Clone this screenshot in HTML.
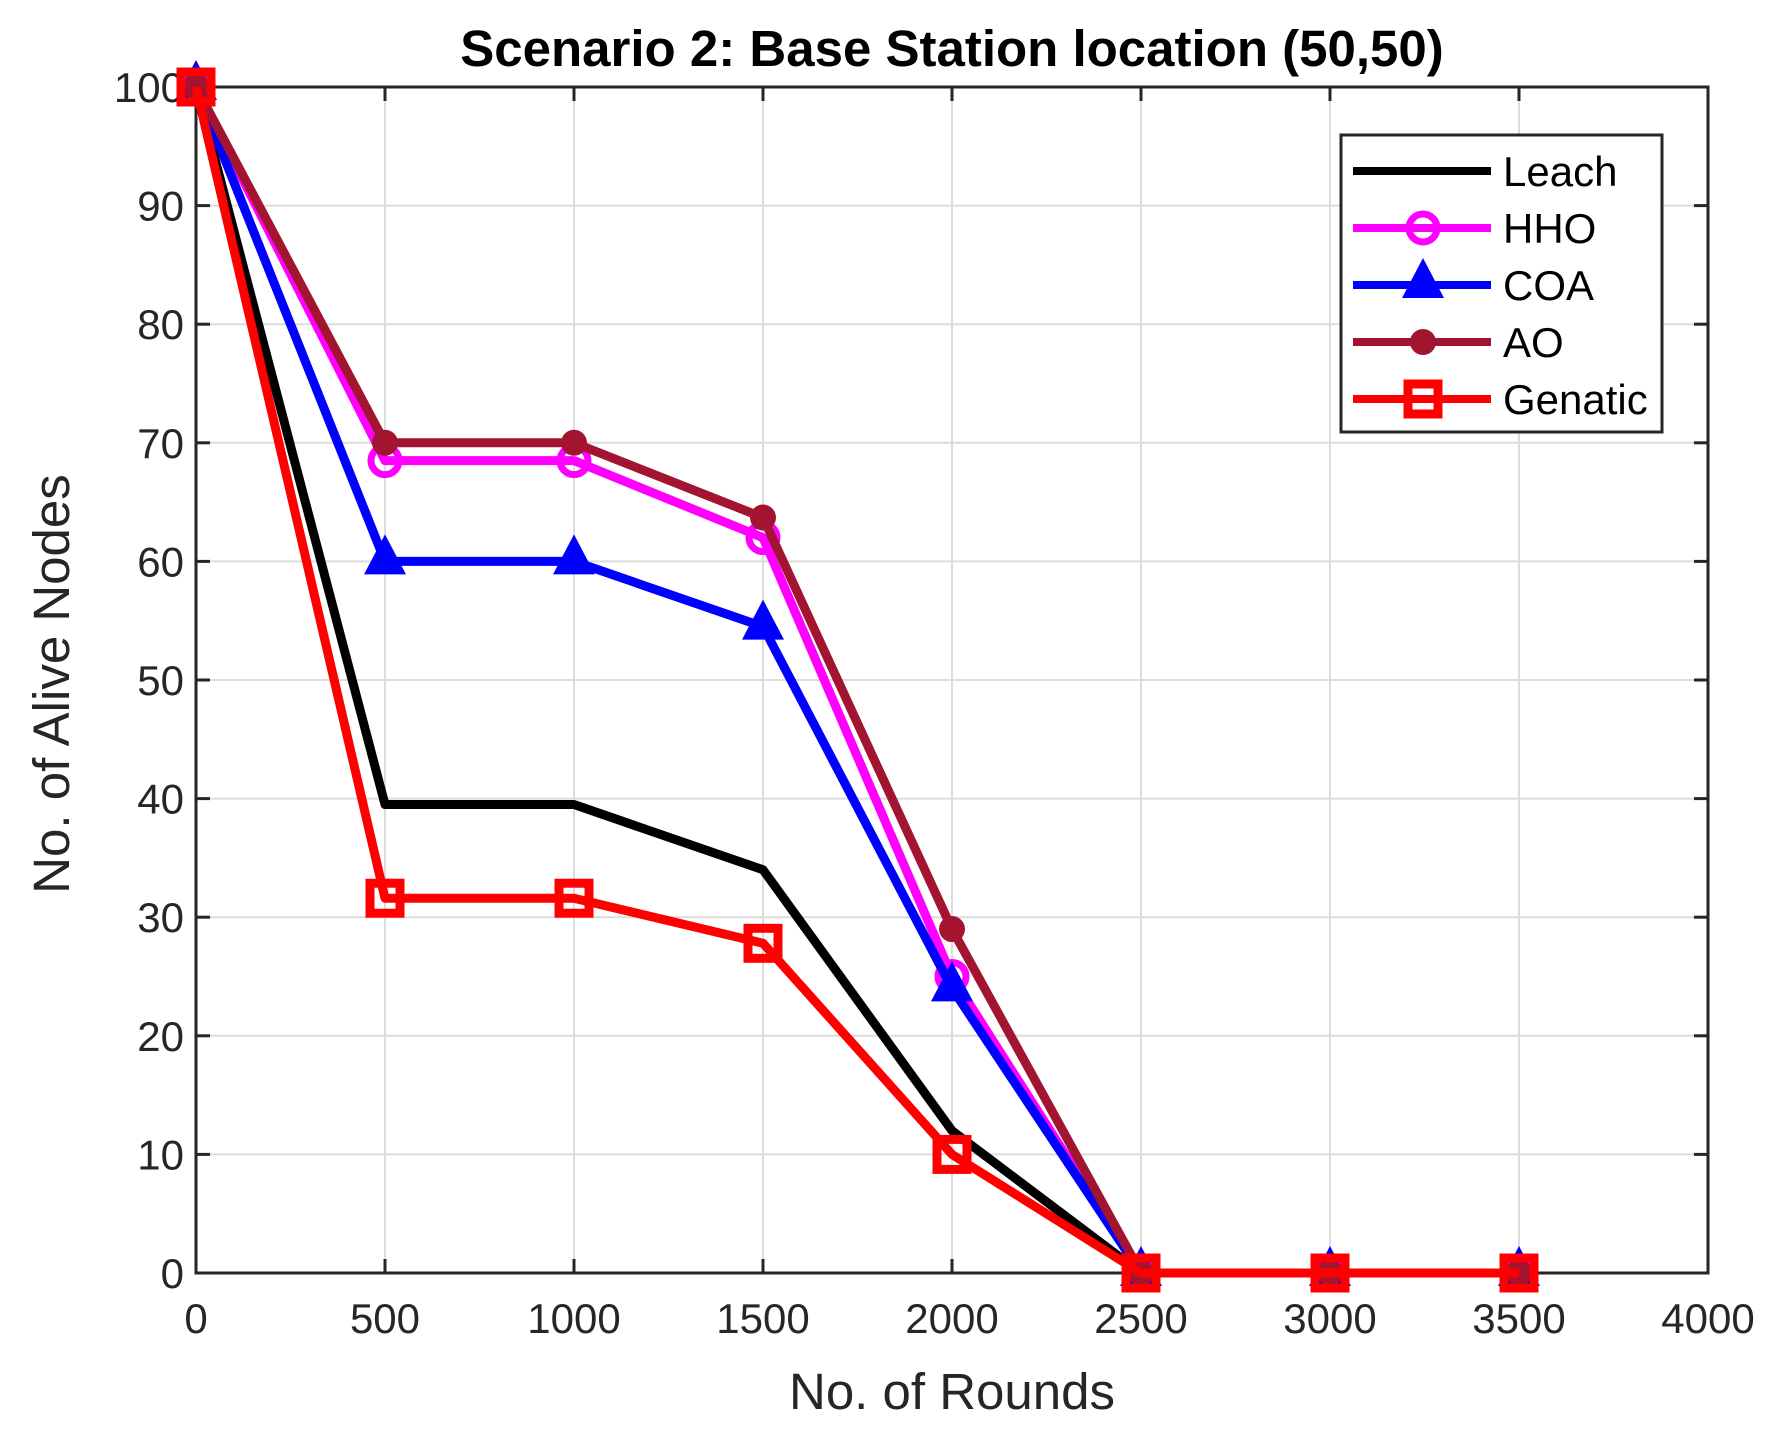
<!DOCTYPE html>
<html><head><meta charset="utf-8"><style>body{margin:0;background:#fff}svg{display:block;font-family:"Liberation Sans",Arial,sans-serif}</style></head>
<body>
<svg id="c" width="1785" height="1433"></svg>
<script>
const categories=[0,500,1000,1500,2000,2500,3000,3500];
const leach=[100,39.5,39.5,34,12,0,0,0];
const hho=[100,68.5,68.5,62,25,0,0,0];
const coa=[100,60,60,54.5,24,0,0,0];
const ao=[100,70,70,63.7,29,0,0,0];
const genatic=[100,31.6,31.6,27.8,10,0,0,0];
const xTicks=[0,500,1000,1500,2000,2500,3000,3500,4000];
const yTicks=[0,10,20,30,40,50,60,70,80,90,100];
const L=196,R=1708,T=87,B=1273;
const X=v=>L+(R-L)*v/4000, Y=v=>B-(B-T)*v/100;
const NS="http://www.w3.org/2000/svg",svg=document.getElementById('c');
function mk(t,a,p){const e=document.createElementNS(NS,t);for(const k in a)e.setAttribute(k,a[k]);(p||svg).appendChild(e);return e;}
const grid=mk('g',{});


xTicks.forEach(v=>{mk('line',{x1:X(v),x2:X(v),y1:T,y2:B,stroke:'#dcdcdc','stroke-width':2},grid);});
yTicks.forEach(v=>{mk('line',{x1:L,x2:R,y1:Y(v),y2:Y(v),stroke:'#dcdcdc','stroke-width':2},grid);});
const ax=mk('g',{});


mk('rect',{x:L,y:T,width:R-L,height:B-T,fill:'none',stroke:'#262626','stroke-width':3},ax);
xTicks.forEach(v=>{mk('line',{x1:X(v),x2:X(v),y1:B,y2:B-14,stroke:'#262626','stroke-width':3},ax);mk('line',{x1:X(v),x2:X(v),y1:T,y2:T+14,stroke:'#262626','stroke-width':3},ax);
const t=mk('text',{x:X(v),y:B+60,'text-anchor':'middle','font-size':42,fill:'#262626'},ax);t.textContent=v;

});
yTicks.forEach(v=>{mk('line',{x1:L,x2:L+14,y1:Y(v),y2:Y(v),stroke:'#262626','stroke-width':3},ax);mk('line',{x1:R,x2:R-14,y1:Y(v),y2:Y(v),stroke:'#262626','stroke-width':3},ax);
const t=mk('text',{x:L-12,y:Y(v)+15,'text-anchor':'end','font-size':42,fill:'#262626'},ax);t.textContent=v;

});
function marker(type,x,y,c,g){
 if(type==='o')mk('circle',{cx:x,cy:y,r:14,fill:'none',stroke:c,'stroke-width':7},g);
 else if(type==='^')mk('polygon',{points:`${x},${y-27} ${x-21},${y+13} ${x+21},${y+13}`,fill:c},g);
 else if(type==='.')mk('circle',{cx:x,cy:y,r:13,fill:c},g);
 else if(type==='s')mk('rect',{x:x-15,y:y-15,width:30,height:30,fill:'none',stroke:c,'stroke-width':9},g);
}
const series=[['leach',leach,'#000000',null,'Leach'],['hho',hho,'#ff00ff','o','HHO'],['coa',coa,'#0000ff','^','COA'],['ao',ao,'#a2142f','.','AO'],['genatic',genatic,'#ff0000','s','Genatic']];
series.forEach(([n,d,c,m])=>{
 const g=mk('g',{});
 
 
 const pts=(n==='leach'?d.slice(0,6):d).map((v,i)=>X(categories[i])+','+Y(v)).join(' ');
 mk('polyline',{points:pts,fill:'none',stroke:c,'stroke-width':9,'stroke-linejoin':'round'},g);
 if(m)d.forEach((v,i)=>marker(m,X(categories[i]),Y(v),c,g));
});
const lg=mk('g',{});


mk('rect',{x:1341,y:135,width:321,height:297,fill:'#fff',stroke:'#262626','stroke-width':3},lg);
series.forEach(([n,d,c,m,lab],i)=>{const y=171+57*i;
 mk('line',{x1:1353,x2:1491,y1:y,y2:y,stroke:c,'stroke-width':8},lg);
 if(m)marker(m,1423,y,c,lg);
 const t=mk('text',{x:1503,y:y+15,'font-size':42,fill:'#000'},lg);t.textContent=lab;
 
 
});
let t=mk('text',{x:952,y:66,'text-anchor':'middle','font-size':51,'font-weight':'bold',fill:'#000'});t.textContent='Scenario 2: Base Station location (50,50)';


t=mk('text',{x:952,y:1409,'text-anchor':'middle','font-size':51,fill:'#262626'});t.textContent='No. of Rounds';


t=mk('text',{x:0,y:0,'text-anchor':'middle','font-size':51,fill:'#262626',transform:'translate(69,684) rotate(-90)'});t.textContent='No. of Alive Nodes';


</script>
</body></html>
